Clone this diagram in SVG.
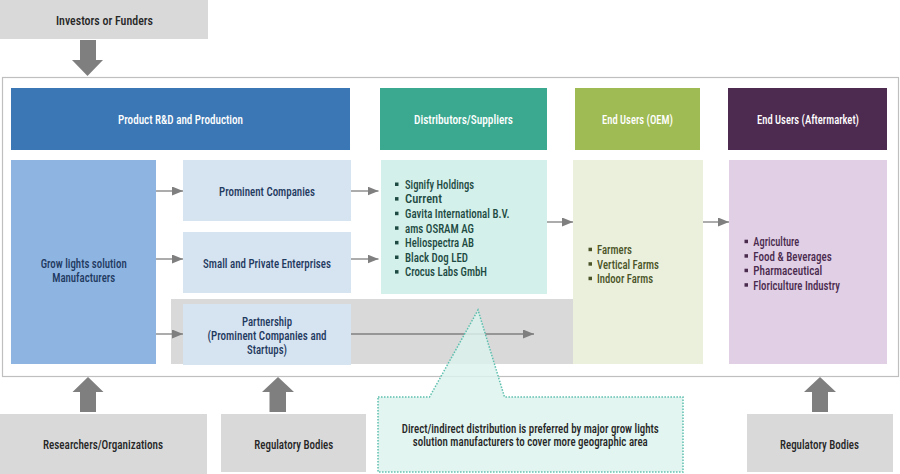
<svg xmlns="http://www.w3.org/2000/svg" width="900" height="474" viewBox="0 0 900 474">
<defs>
<style>
text{font-family:"Roboto Condensed","Liberation Sans Narrow","Roboto","Liberation Sans",sans-serif;font-size:13px;font-weight:500;}
.c{text-anchor:middle;}
.dk{fill:#262626;}
.wh{fill:#ffffff;}
.nv{fill:#1f3a5f;}
.tl{fill:#1d4a42;}
.ol{fill:#4a5428;}
.pu{fill:#4a2b4e;}
.gray{fill:#d9d9d9;}
.big{fill:#7f7f7f;}
.lt{fill:#d6e3f1;}
.conn{stroke:#7f7f7f;stroke-width:1.3;fill:none;marker-end:url(#ah);}
</style>
<marker id="ah" viewBox="0 0 11 9" refX="11" refY="4.5" markerWidth="11" markerHeight="9" markerUnits="userSpaceOnUse" orient="auto">
<path d="M0,0 L11,4.5 L0,9 Z" fill="#7f7f7f"/>
</marker>
</defs>
<rect width="900" height="474" fill="#ffffff"/>

<g id="investors">
<rect x="0" y="0" width="208" height="39" class="gray"/>
<text x="104.5" y="24.5" class="c dk" textLength="97" lengthAdjust="spacingAndGlyphs">Investors or Funders</text>
</g>
<polygon id="arrow-down" class="big" points="80,40 96,40 96,60 103,60 87.5,76 72,60 80,60"/>

<rect id="frame" x="2.5" y="77.5" width="896" height="299" fill="#ffffff" stroke="#bfbfbf" stroke-width="1.2"/>

<g id="hdr-rd">
<rect x="11" y="88" width="339" height="62" fill="#3a77b4"/>
<text x="180.5" y="123.5" class="c wh" textLength="125" lengthAdjust="spacingAndGlyphs">Product R&amp;D and Production</text>
</g>
<g id="hdr-dist">
<rect x="380" y="88" width="167" height="62" fill="#3aa98f"/>
<text x="463.5" y="123.5" class="c wh" textLength="99" lengthAdjust="spacingAndGlyphs">Distributors/Suppliers</text>
</g>
<g id="hdr-oem">
<rect x="575" y="88" width="125" height="62" fill="#9fbb54"/>
<text x="637.5" y="123.5" class="c wh" textLength="71" lengthAdjust="spacingAndGlyphs">End Users (OEM)</text>
</g>
<g id="hdr-after">
<rect x="728" y="88" width="159" height="62" fill="#4d2a50"/>
<text x="808" y="123.5" class="c wh" textLength="102" lengthAdjust="spacingAndGlyphs">End Users (Aftermarket)</text>
</g>

<rect id="partner-bg" x="171" y="299" width="402" height="65" class="gray"/>

<g id="manufacturers">
<rect x="11" y="160" width="145" height="204" fill="#8eb4e2"/>
<text x="83.7" y="267.5" class="c nv" textLength="86" lengthAdjust="spacingAndGlyphs">Grow lights solution</text>
<text x="83.7" y="281.5" class="c nv" textLength="63" lengthAdjust="spacingAndGlyphs">Manufacturers</text>
</g>
<g id="prominent">
<rect x="183" y="160" width="168" height="61" class="lt"/>
<text x="267" y="196" class="c nv" textLength="96" lengthAdjust="spacingAndGlyphs">Prominent Companies</text>
</g>
<g id="small">
<rect x="183" y="232" width="168" height="61" class="lt"/>
<text x="267" y="267.5" class="c nv" textLength="128" lengthAdjust="spacingAndGlyphs">Small and Private Enterprises</text>
</g>
<g id="partnership">
<rect x="183" y="304" width="168" height="61" class="lt"/>
<text x="267" y="325.5" class="c nv" textLength="50" lengthAdjust="spacingAndGlyphs">Partnership</text>
<text x="267" y="339.5" class="c nv" textLength="119" lengthAdjust="spacingAndGlyphs">(Prominent Companies and</text>
<text x="267" y="354" class="c nv" textLength="40" lengthAdjust="spacingAndGlyphs">Startups)</text>
</g>

<g id="distributors">
<rect x="381" y="160" width="166" height="134" fill="#d3f0ea"/>
<g class="tl">
<rect x="395" y="182.5" width="3.5" height="3.5"/>
<rect x="395" y="197.1" width="3.5" height="3.5"/>
<rect x="395" y="211.7" width="3.5" height="3.5"/>
<rect x="395" y="226.3" width="3.5" height="3.5"/>
<rect x="395" y="240.9" width="3.5" height="3.5"/>
<rect x="395" y="255.5" width="3.5" height="3.5"/>
<rect x="395" y="270.1" width="3.5" height="3.5"/>
</g>
<text x="405" y="188.8" class="tl" textLength="69" lengthAdjust="spacingAndGlyphs">Signify Holdings</text>
<text x="405" y="203.4" class="tl" textLength="37" lengthAdjust="spacingAndGlyphs">Current</text>
<text x="405" y="218" class="tl" textLength="104.5" lengthAdjust="spacingAndGlyphs">Gavita International B.V.</text>
<text x="405" y="232.6" class="tl" textLength="69" lengthAdjust="spacingAndGlyphs">ams OSRAM AG</text>
<text x="405" y="247.2" class="tl" textLength="69" lengthAdjust="spacingAndGlyphs">Heliospectra AB</text>
<text x="405" y="261.8" class="tl" textLength="63" lengthAdjust="spacingAndGlyphs">Black Dog LED</text>
<text x="405" y="276.4" class="tl" textLength="82" lengthAdjust="spacingAndGlyphs">Crocus Labs GmbH</text>
</g>

<g id="oem">
<rect x="573" y="160" width="130" height="204" fill="#ebf0dc"/>
<g class="ol">
<rect x="588.5" y="247.7" width="3.5" height="3.5"/>
<rect x="588.5" y="262.2" width="3.5" height="3.5"/>
<rect x="588.5" y="276.7" width="3.5" height="3.5"/>
</g>
<text x="597" y="254" class="ol" textLength="35" lengthAdjust="spacingAndGlyphs">Farmers</text>
<text x="597" y="268.5" class="ol" textLength="62" lengthAdjust="spacingAndGlyphs">Vertical Farms</text>
<text x="597" y="283" class="ol" textLength="56" lengthAdjust="spacingAndGlyphs">Indoor Farms</text>
</g>

<g id="aftermarket">
<rect x="729" y="160" width="158" height="204" fill="#e1cfe5"/>
<g class="pu">
<rect x="744.5" y="239.7" width="3.5" height="3.5"/>
<rect x="744.5" y="254.2" width="3.5" height="3.5"/>
<rect x="744.5" y="268.7" width="3.5" height="3.5"/>
<rect x="744.5" y="283.2" width="3.5" height="3.5"/>
</g>
<text x="753.3" y="246" class="pu" textLength="46" lengthAdjust="spacingAndGlyphs">Agriculture</text>
<text x="753.3" y="260.5" class="pu" textLength="78.4" lengthAdjust="spacingAndGlyphs">Food &amp; Beverages</text>
<text x="753.3" y="275" class="pu" textLength="69" lengthAdjust="spacingAndGlyphs">Pharmaceutical</text>
<text x="753.3" y="289.5" class="pu" textLength="86.7" lengthAdjust="spacingAndGlyphs">Floriculture Industry</text>
</g>

<g id="connectors">
<line class="conn" x1="156" y1="191" x2="183" y2="191"/>
<line class="conn" x1="156" y1="259" x2="183" y2="259"/>
<line class="conn" x1="156" y1="334" x2="183" y2="334"/>
<line class="conn" x1="351" y1="191" x2="378.5" y2="191"/>
<line class="conn" x1="351" y1="259" x2="378.5" y2="259"/>
<line class="conn" x1="351" y1="334" x2="534" y2="334"/>
<line class="conn" x1="547" y1="222" x2="573" y2="222"/>
<line class="conn" x1="703" y1="222" x2="729" y2="222"/>
</g>

<g id="callout">
<path d="M378,397 L429.5,397 L478,310 L504.5,397 L683,397 L683,472 L378,472 Z" fill="#dcf3ed" fill-opacity="0.82" stroke="#5cbfae" stroke-width="1.5" stroke-dasharray="1.5 1.5"/>
<text x="530.3" y="432.5" class="c dk" textLength="257" lengthAdjust="spacingAndGlyphs">Direct/indirect distribution is preferred by major grow lights</text>
<text x="530.3" y="446" class="c dk" textLength="235" lengthAdjust="spacingAndGlyphs">solution manufacturers to cover more geographic area</text>
</g>

<polygon id="arrow-up-1" class="big" points="80,412 96,412 96,392 103.5,392 88,377 72.5,392 80,392"/>
<polygon id="arrow-up-2" class="big" points="269.5,412 286,412 286,392 294,392 278,377 262,392 269.5,392"/>
<polygon id="arrow-up-3" class="big" points="812,412 828,412 828,392 836,392 820,377 804,392 812,392"/>

<g id="researchers">
<rect x="0" y="414" width="207" height="60" class="gray"/>
<text x="103" y="449" class="c dk" textLength="120" lengthAdjust="spacingAndGlyphs">Researchers/Organizations</text>
</g>
<g id="regulatory-1">
<rect x="221" y="414" width="145" height="58" class="gray"/>
<text x="293.8" y="448.5" class="c dk" textLength="79" lengthAdjust="spacingAndGlyphs">Regulatory Bodies</text>
</g>
<g id="regulatory-2">
<rect x="747" y="414" width="146" height="58" class="gray"/>
<text x="819.5" y="448.5" class="c dk" textLength="79" lengthAdjust="spacingAndGlyphs">Regulatory Bodies</text>
</g>
</svg>
